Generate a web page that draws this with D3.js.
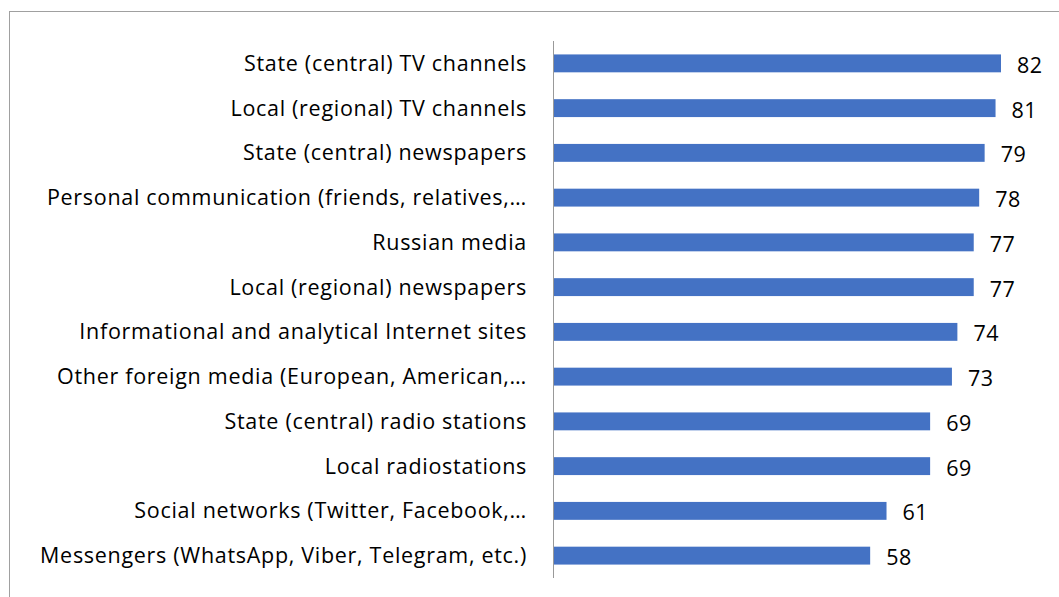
<html>
<head>
<meta charset="utf-8">
<script src="https://cdn.jsdelivr.net/npm/d3@7"></script>
<style>
body { margin: 0; background: #fff; }
.cat-label { font: 21.5px "Open Sans", Arial, sans-serif; letter-spacing: 0.7px; fill: #000; }
.val-label { font: 21.5px "Open Sans", Arial, sans-serif; letter-spacing: 0.5px; fill: #000; }
</style>
</head>
<body>
<div id="chart"></div>
<script>
var categories = [
	"State (central) TV channels",
	"Local (regional) TV channels",
	"State (central) newspapers",
	"Personal communication (friends, relatives,…",
	"Russian media",
	"Local (regional) newspapers",
	"Informational and analytical Internet sites",
	"Other foreign media (European, American,…",
	"State (central) radio stations",
	"Local radiostations",
	"Social networks (Twitter, Facebook,…",
	"Messengers (WhatsApp, Viber, Telegram, etc.)"
];
var values = [82, 81, 79, 78, 77, 77, 74, 73, 69, 69, 61, 58];

var width = 1059, height = 597;

var svg = d3.select("#chart").append("svg")
	.attr("width", width)
	.attr("height", height);

// chart area border (runs off the right and bottom edges)
svg.append("rect")
	.attr("x", 9.5).attr("y", 11.5)
	.attr("width", 1100).attr("height", 700)
	.attr("fill", "none")
	.attr("stroke", "#a0a0a0");

var x = d3.scaleLinear().domain([0, 90]).range([554, 1044.6]);
var y = d3.scaleBand().domain(categories).range([41, 578])
	.paddingInner(0.6).paddingOuter(0.3);

// bars
svg.selectAll("rect.bar")
	.data(values)
	.enter().append("rect")
	.attr("class", "bar")
	.attr("x", x(0))
	.attr("y", function(d, i) { return y(categories[i]); })
	.attr("width", function(d) { return x(d) - x(0); })
	.attr("height", y.bandwidth())
	.attr("fill", "#4472C4");

// vertical axis line
svg.append("line")
	.attr("x1", x(0) - 0.5).attr("x2", x(0) - 0.5)
	.attr("y1", y.range()[0]).attr("y2", y.range()[1])
	.attr("stroke", "#999")
	.attr("stroke-width", 1);

// category labels
svg.selectAll("text.cat-label")
	.data(categories)
	.enter().append("text")
	.attr("class", "cat-label")
	.attr("x", 527)
	.attr("y", function(d) { return y(d) + y.bandwidth() / 2; })
	.attr("dy", "0.35em")
	.attr("text-anchor", "end")
	.text(function(d) { return d; });

// value labels
svg.selectAll("text.val-label")
	.data(values)
	.enter().append("text")
	.attr("class", "val-label")
	.attr("x", function(d) { return x(d) + 16; })
	.attr("y", function(d, i) { return y(categories[i]) + y.bandwidth() / 2 + 2; })
	.attr("dy", "0.35em")
	.text(function(d) { return d; });
</script>
</body>
</html>
